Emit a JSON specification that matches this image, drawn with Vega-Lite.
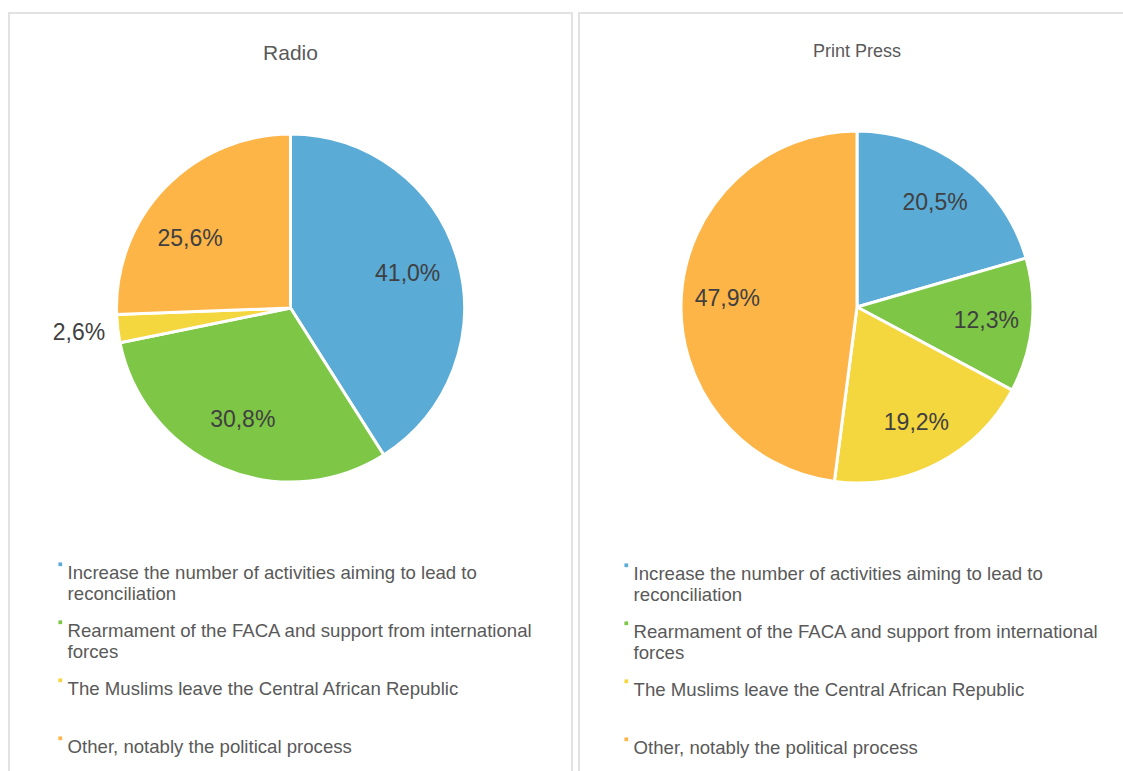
{
  "$schema": "https://vega.github.io/schema/vega-lite/v6.json",
  "padding": {"left": 8, "top": 12, "right": 0, "bottom": 0},
  "autosize": {"type": "pad"},
  "background": "white",
  "config": {
    "view": {"stroke": "#e2e2e2", "strokeWidth": 2},
    "font": "Liberation Sans",
    "locale": {"number": {"decimal": ",", "thousands": ".", "grouping": [3], "currency": ["", " €"]}},
    "title": {"fontWeight": "normal", "color": "#595959", "baseline": "top", "anchor": "middle", "frame": "group"},
    "legend": {
      "orient": "none",
      "direction": "vertical",
      "symbolType": "square",
      "symbolSize": 14,
      "symbolStrokeWidth": 0,
      "labelFontSize": 18.6,
      "labelColor": "#595959",
      "labelLimit": 700,
      "labelBaseline": "top",
      "labelOffset": -2,
      "gridAlign": "all",
      "rowPadding": 9
    }
  },
  "datasets": {
    "radio": [
      {"medium": "Radio", "answer": "Increase the number of activities aiming to lead to reconciliation", "idx": 1, "value": 0.410},
      {"medium": "Radio", "answer": "Rearmament of the FACA and support from international forces", "idx": 2, "value": 0.308},
      {"medium": "Radio", "answer": "The Muslims leave the Central African Republic", "idx": 3, "value": 0.026},
      {"medium": "Radio", "answer": "Other, notably the political process", "idx": 4, "value": 0.256}
    ],
    "print": [
      {"medium": "Print Press", "answer": "Increase the number of activities aiming to lead to reconciliation", "idx": 1, "value": 0.205},
      {"medium": "Print Press", "answer": "Rearmament of the FACA and support from international forces", "idx": 2, "value": 0.123},
      {"medium": "Print Press", "answer": "The Muslims leave the Central African Republic", "idx": 3, "value": 0.192},
      {"medium": "Print Press", "answer": "Other, notably the political process", "idx": 4, "value": 0.479}
    ]
  },
  "spacing": 5,
  "resolve": {"scale": {"color": "independent", "y": "independent"}, "legend": {"color": "independent"}},
  "hconcat": [
    {
      "width": 563,
      "height": 770,
      "title": {"text": "Radio", "fontSize": 21, "offset": -51},
      "data": {"name": "radio"},
      "encoding": {
        "theta": {"field": "value", "type": "quantitative", "stack": true},
        "order": {"field": "idx", "type": "quantitative"},
        "y": {"field": "medium", "type": "nominal", "axis": null, "scale": {"range": [0, 590]}}
      },
      "layer": [
        {
          "mark": {"type": "arc", "outerRadius": 174, "stroke": "white", "strokeWidth": 3},
          "encoding": {
            "color": {
              "field": "answer", "type": "nominal",
              "scale": {
                "domain": ["Increase the number of activities aiming to lead to reconciliation", "Rearmament of the FACA and support from international forces", "The Muslims leave the Central African Republic", "Other, notably the political process"],
                "range": ["#5AABD6", "#7EC646", "#F4D63E", "#FEB548"]
              },
              "legend": {
                "title": null,
                "legendX": 42,
                "legendY": 542,
                "labelExpr": "datum.label == 'Increase the number of activities aiming to lead to reconciliation' ? ['Increase the number of activities aiming to lead to', 'reconciliation'] : datum.label == 'Rearmament of the FACA and support from international forces' ? ['Rearmament of the FACA and support from international', 'forces'] : datum.label"
              }
            }
          }
        },
        {
          "transform": [{"filter": "datum.value >= 0.05"}],
          "mark": {"type": "text", "fontSize": 23, "fill": "#404040", "radius": 122},
          "encoding": {
            "text": {"field": "value", "type": "quantitative", "format": ".1%"}
          }
        },
        {
          "mark": {"type": "text", "fontSize": 23, "radius": 213},
          "encoding": {
            "text": {"field": "value", "type": "quantitative", "format": ".1%"},
            "opacity": {"condition": {"test": "datum.value < 0.05", "value": 1}, "value": 0},
            "color": {"value": "#404040"}
          }
        }
      ]
    },
    {
      "width": 556,
      "height": 770,
      "title": {"text": "Print Press", "fontSize": 18, "offset": -48},
      "data": {"name": "print"},
      "encoding": {
        "theta": {"field": "value", "type": "quantitative", "stack": true},
        "order": {"field": "idx", "type": "quantitative"},
        "y": {"field": "medium", "type": "nominal", "axis": null, "scale": {"range": [0, 588]}}
      },
      "layer": [
        {
          "mark": {"type": "arc", "outerRadius": 176, "stroke": "white", "strokeWidth": 3},
          "encoding": {
            "color": {
              "field": "answer", "type": "nominal",
              "scale": {
                "domain": ["Increase the number of activities aiming to lead to reconciliation", "Rearmament of the FACA and support from international forces", "The Muslims leave the Central African Republic", "Other, notably the political process"],
                "range": ["#5AABD6", "#7EC646", "#F4D63E", "#FEB548"]
              },
              "legend": {
                "title": null,
                "legendX": 38,
                "legendY": 543,
                "labelExpr": "datum.label == 'Increase the number of activities aiming to lead to reconciliation' ? ['Increase the number of activities aiming to lead to', 'reconciliation'] : datum.label == 'Rearmament of the FACA and support from international forces' ? ['Rearmament of the FACA and support from international', 'forces'] : datum.label"
              }
            }
          }
        },
        {
          "mark": {"type": "text", "fontSize": 23, "fill": "#404040", "radius": 130},
          "encoding": {
            "text": {"field": "value", "type": "quantitative", "format": ".1%"}
          }
        }
      ]
    }
  ]
}
